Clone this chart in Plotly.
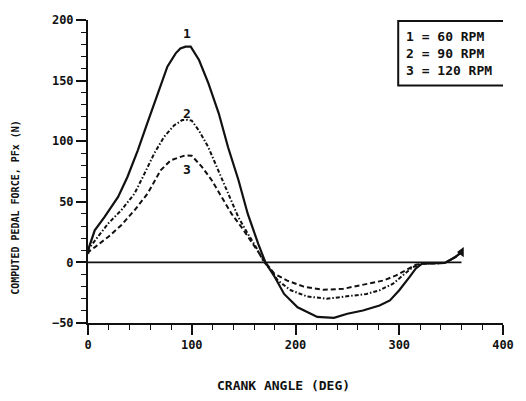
import plotly.graph_objects as go

# Curve 1 : 60 RPM (solid)
angle_60 = [0, 1, 6.5, 16, 29, 38, 48, 57, 67, 76.5, 84.5, 89, 94, 99, 107, 116, 126, 135, 145, 154,
            164, 171, 180, 189, 202, 221, 237, 250, 265, 281, 291, 300, 310, 316, 322, 344, 354, 360]
pfx_60 = [10, 12.5, 26.5, 37.5, 54, 70.5, 92.5, 114.5, 139.5, 161.5, 172.5, 176.5, 178, 178, 167, 148, 123, 95, 68, 40,
          15.5, 0, -12, -26, -37, -45, -45.7, -42.4, -39.7, -35.5, -31.4, -23, -12, -5, -1, -0.5, 4.4, 8.5]

# Curve 2 : 90 RPM (dash-dot)
angle_90 = [0, 1, 6.7, 19.4, 32, 44.8, 54.3, 63.8, 73.3, 82.9, 90.8, 96, 100, 106.7, 116, 125.7, 135, 144.8, 154,
            162, 168.6, 176.5, 183, 195.5, 211, 230, 249.5, 268.6, 281, 294, 303.5, 313, 322.5, 344, 354, 360]
pfx_90 = [9, 11.5, 18, 32, 43, 56.7, 73, 89.8, 103.6, 113, 117.4, 117.6, 117, 109, 95, 76, 56.7, 37.5, 23.7,
          12.6, 1.6, -6.6, -15, -23, -28, -30, -28, -26, -23, -17.6, -10.7, -3.9, -1, -0.5, 4.4, 8.5]

# Curve 3 : 120 RPM (dashed)
angle_120 = [0, 1, 6.7, 19.4, 32, 44.8, 57.4, 70, 79.7, 89, 94, 100, 109.8, 119.3, 129, 138.4, 148, 157.4,
             165.4, 171, 179.7, 192, 208, 227, 246, 265, 284.5, 297, 306.7, 316, 322.5, 344, 354, 360]
pfx_120 = [7, 9, 12.6, 21, 30.6, 43, 56.7, 76, 84.3, 87, 88.4, 88, 78.8, 67.8, 54, 40, 29, 16.8,
           7, 0, -9.4, -15, -20, -22.6, -21.8, -18.2, -15, -10.7, -6.6, -2, -1, -0.5, 4.4, 8.5]

# zero reference line
zero_angle = [0, 360]
zero_pfx = [0, 0]

curve_labels = ["1", "2", "3"]
label_angle = [95.5, 95.5, 95.5]
label_pfx = [189, 123, 77]

legend_lines = ["1 = 60 RPM", "2 = 90 RPM", "3 = 120 RPM"]

x_ticks = [0, 100, 200, 300, 400]
y_ticks = [-50, 0, 50, 100, 150, 200]

x_title = "CRANK ANGLE (DEG)"
y_title = "COMPUTED PEDAL FORCE, PFx (N)"

FONT = "DejaVu Sans Mono"
INK = "#111111"

fig = go.Figure()
fig.add_trace(go.Scatter(x=zero_angle, y=zero_pfx, mode="lines",
                         line=dict(color=INK, width=1.8), hoverinfo="skip"))
fig.add_trace(go.Scatter(x=angle_120, y=pfx_120, mode="lines",
                         line=dict(color=INK, width=2, dash="5px,3px")))
fig.add_trace(go.Scatter(x=angle_90, y=pfx_90, mode="lines",
                         line=dict(color=INK, width=2, dash="4px,2px,1.5px,2px")))
fig.add_trace(go.Scatter(x=angle_60, y=pfx_60, mode="lines",
                         line=dict(color=INK, width=2.2)))
fig.add_trace(go.Scatter(x=[angle_60[-1]], y=[pfx_60[-1]], mode="markers",
                         marker=dict(symbol="triangle-left", size=9, color=INK)))

for t, xa, ya in zip(curve_labels, label_angle, label_pfx):
    fig.add_annotation(x=xa, y=ya, text=t, showarrow=False,
                       font=dict(family=FONT, size=13, color=INK, weight="bold"))

# legend box
fig.add_shape(type="rect", x0=299, x1=402, y0=146, y1=199.2,
              line=dict(color=INK, width=2), fillcolor="white", layer="above")
fig.add_annotation(x=304.5, y=172.5, xanchor="left", yanchor="middle", align="left",
                   text="<br>".join(legend_lines), showarrow=False,
                   font=dict(family=FONT, size=13, color=INK, weight="bold"))

# axis titles placed as in the original (offset from plot centre)
fig.add_annotation(xref="paper", yref="paper", x=0.471, y=-0.205, text=x_title,
                   showarrow=False, xanchor="center", yanchor="middle",
                   font=dict(family=FONT, size=13, color=INK, weight="bold"))
fig.add_annotation(xref="paper", yref="paper", x=-0.174, y=0.383, text=y_title,
                   showarrow=False, xanchor="center", yanchor="middle", textangle=-90,
                   font=dict(family=FONT, size=10, color=INK, weight="bold"))

axis_common = dict(showline=True, linecolor=INK, linewidth=2, showgrid=False, zeroline=False,
                   ticks="outside", ticklen=10, tickwidth=1.5, tickcolor=INK,
                   tickfont=dict(family=FONT, size=12, color=INK, weight="bold"))

fig.update_xaxes(range=[0, 400], tickvals=x_ticks, **axis_common,
                 minor=dict(dtick=20, ticklen=5, tickwidth=1.3, tickcolor=INK, ticks="outside"))
fig.update_yaxes(range=[-50, 200], tickvals=y_ticks, **axis_common,
                 minor=dict(dtick=10, ticklen=5, tickwidth=1.3, tickcolor=INK, ticks="outside"))

fig.update_layout(width=526, height=401, margin=dict(l=88, r=18, t=20, b=78),
                  paper_bgcolor="white", plot_bgcolor="white", showlegend=False)

fig.write_html("out.html")
